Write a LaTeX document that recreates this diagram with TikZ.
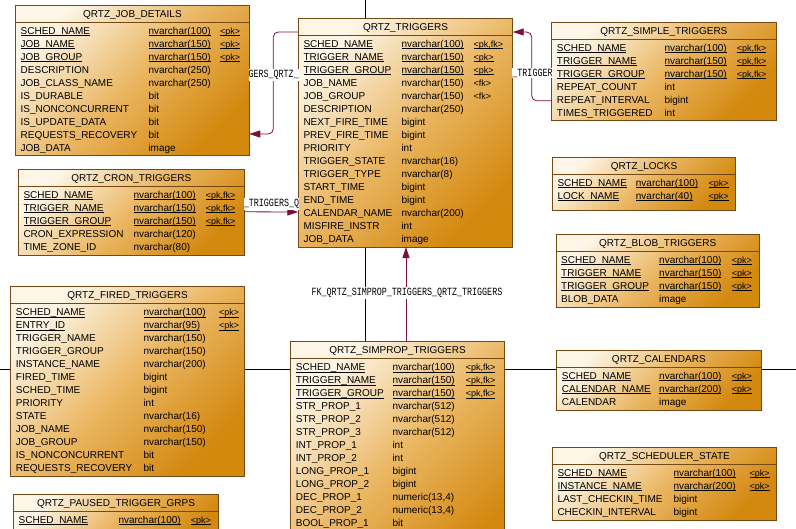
\documentclass[tikz,border=0pt]{standalone}
\usepackage{fontspec}
\setmainfont{Liberation Sans}
\newfontfamily\qmono{Liberation Mono}
\usepackage{xcolor}
\usetikzlibrary{
    arrows.meta,
    calc,
    positioning
}
\definecolor{qlight}{RGB}{253,245,230}
\definecolor{qmid}{RGB}{234,182,98}
\definecolor{qdark}{RGB}{211,136,14}
\definecolor{qborder}{RGB}{118,72,20}
\definecolor{fkred}{RGB}{122,14,62}
\tikzset{
    qbox/.style={draw=qborder, line width=0.8pt, top color=qlight, bottom color=qdark, middle color=qmid, shading angle=45, inner sep=0pt, outer sep=0pt},
    qsep/.style={draw=qborder, line width=0.8pt},
    qtitle/.style={font=\fontsize{10}{12}\selectfont, inner sep=0pt, text height=7.2pt, text depth=0pt},
    qcell/.style={anchor=west, font=\fontsize{10}{12}\selectfont, inner sep=0pt, text height=7.2pt, text depth=0pt},
    qkey/.style={qcell, font=\fontsize{9}{11}\selectfont},
    fk/.style={draw=fkred, line width=0.8pt, rounded corners=5pt, -{Triangle[length=11pt, width=7pt]}},
    fklabel/.style={fill=white, inner xsep=0pt, inner ysep=0.8pt, font=\qmono\fontsize{11}{12}\selectfont},
    pageline/.style={draw=black, line width=0.8pt}
}
\newcommand{\pkline}[1]{\setbox0=\hbox{#1}\rlap{\rule[-1.6pt]{\wd0}{0.6pt}}\box0}
\newcommand{\fktext}[1]{\scalebox{0.76}[1]{#1}}
\newcommand{\qrtztable}[9]{
    \node[qbox, anchor=north west, minimum width=#4pt-#2pt, minimum height=#5pt-#3pt] (#1) at (#2, #3) {};
    \draw[qsep] ($(#1.north west)+(0,17)$) -- ($(#1.north east)+(0,17)$);
    \node[qtitle] (#1-title) at ($(#1.north)+(0,8.5)$) {#6};
    \foreach \cname/\ctype/\ckey [count=\row] in {#9} {
        \node[qcell] (#1-n\row) at (#2+5, #3+12.5+13*\row) {\cname};
        \node[qcell] (#1-t\row) at (#7, #3+12.5+13*\row) {\ctype};
        \node[qkey] (#1-k\row) at (#8, #3+12.5+13*\row) {\ckey};
    }
}

\begin{document}
\begin{tikzpicture}[x=1pt, y=-1pt]
    \useasboundingbox (0, 0) rectangle (796, 528);
    \draw[pageline] (0, 369.5) -- (796, 369.5);
    \draw[pageline] (365.5, 0) -- (365.5, 528);
    \qrtztable{jobdet}{15.5}{5}{249.3}{155}{QRTZ\_JOB\_DETAILS}{148.3}{220}{
        \pkline{SCHED\_NAME}/\pkline{nvarchar(100)}/\pkline{<pk>},
        \pkline{JOB\_NAME}/\pkline{nvarchar(150)}/\pkline{<pk>},
        \pkline{JOB\_GROUP}/\pkline{nvarchar(150)}/\pkline{<pk>},
        DESCRIPTION/nvarchar(250)/{},
        JOB\_CLASS\_NAME/nvarchar(250)/{},
        IS\_DURABLE/bit/{},
        IS\_NONCONCURRENT/bit/{},
        IS\_UPDATE\_DATA/bit/{},
        REQUESTS\_RECOVERY/bit/{},
        JOB\_DATA/image/{}}
    \qrtztable{trig}{298.3}{18}{512.7}{247}{QRTZ\_TRIGGERS}{401.3}{473.3}{
        \pkline{SCHED\_NAME}/\pkline{nvarchar(100)}/\pkline{<pk,fk>},
        \pkline{TRIGGER\_NAME}/\pkline{nvarchar(150)}/\pkline{<pk>},
        \pkline{TRIGGER\_GROUP}/\pkline{nvarchar(150)}/\pkline{<pk>},
        JOB\_NAME/nvarchar(150)/<fk>,
        JOB\_GROUP/nvarchar(150)/<fk>,
        DESCRIPTION/nvarchar(250)/{},
        NEXT\_FIRE\_TIME/bigint/{},
        PREV\_FIRE\_TIME/bigint/{},
        PRIORITY/int/{},
        TRIGGER\_STATE/nvarchar(16)/{},
        TRIGGER\_TYPE/nvarchar(8)/{},
        START\_TIME/bigint/{},
        END\_TIME/bigint/{},
        CALENDAR\_NAME/nvarchar(200)/{},
        MISFIRE\_INSTR/int/{},
        JOB\_DATA/image/{}}
    \qrtztable{simple}{551.7}{22.3}{776}{120.7}{QRTZ\_SIMPLE\_TRIGGERS}{664.3}{736.7}{
        \pkline{SCHED\_NAME}/\pkline{nvarchar(100)}/\pkline{<pk,fk>},
        \pkline{TRIGGER\_NAME}/\pkline{nvarchar(150)}/\pkline{<pk,fk>},
        \pkline{TRIGGER\_GROUP}/\pkline{nvarchar(150)}/\pkline{<pk,fk>},
        REPEAT\_COUNT/int/{},
        REPEAT\_INTERVAL/bigint/{},
        TIMES\_TRIGGERED/int/{}}
    \qrtztable{locks}{552.3}{157.3}{735.7}{210.7}{QRTZ\_LOCKS}{635.7}{708.3}{
        \pkline{SCHED\_NAME}/\pkline{nvarchar(100)}/\pkline{<pk>},
        \pkline{LOCK\_NAME}/\pkline{nvarchar(40)}/\pkline{<pk>}}
    \qrtztable{cron}{18.3}{169.3}{244.3}{255}{QRTZ\_CRON\_TRIGGERS}{133.3}{205.7}{
        \pkline{SCHED\_NAME}/\pkline{nvarchar(100)}/\pkline{<pk,fk>},
        \pkline{TRIGGER\_NAME}/\pkline{nvarchar(150)}/\pkline{<pk,fk>},
        \pkline{TRIGGER\_GROUP}/\pkline{nvarchar(150)}/\pkline{<pk,fk>},
        CRON\_EXPRESSION/nvarchar(120)/{},
        TIME\_ZONE\_ID/nvarchar(80)/{}}
    \qrtztable{fired}{10.7}{286.5}{244.5}{476}{QRTZ\_FIRED\_TRIGGERS}{143.3}{219}{
        \pkline{SCHED\_NAME}/\pkline{nvarchar(100)}/\pkline{<pk>},
        \pkline{ENTRY\_ID}/\pkline{nvarchar(95)}/\pkline{<pk>},
        TRIGGER\_NAME/nvarchar(150)/{},
        TRIGGER\_GROUP/nvarchar(150)/{},
        INSTANCE\_NAME/nvarchar(200)/{},
        FIRED\_TIME/bigint/{},
        SCHED\_TIME/bigint/{},
        PRIORITY/int/{},
        STATE/nvarchar(16)/{},
        JOB\_NAME/nvarchar(150)/{},
        JOB\_GROUP/nvarchar(150)/{},
        IS\_NONCONCURRENT/bit/{},
        REQUESTS\_RECOVERY/bit/{}}
    \qrtztable{paused}{13.5}{494.3}{218.5}{545}{QRTZ\_PAUSED\_TRIGGER\_GRPS}{118.3}{190.7}{
        \pkline{SCHED\_NAME}/\pkline{nvarchar(100)}/\pkline{<pk>}}
    \qrtztable{simprop}{290.7}{341.7}{504.3}{575}{QRTZ\_SIMPROP\_TRIGGERS}{392.3}{465.7}{
        \pkline{SCHED\_NAME}/\pkline{nvarchar(100)}/\pkline{<pk,fk>},
        \pkline{TRIGGER\_NAME}/\pkline{nvarchar(150)}/\pkline{<pk,fk>},
        \pkline{TRIGGER\_GROUP}/\pkline{nvarchar(150)}/\pkline{<pk,fk>},
        STR\_PROP\_1/nvarchar(512)/{},
        STR\_PROP\_2/nvarchar(512)/{},
        STR\_PROP\_3/nvarchar(512)/{},
        INT\_PROP\_1/int/{},
        INT\_PROP\_2/int/{},
        LONG\_PROP\_1/bigint/{},
        LONG\_PROP\_2/bigint/{},
        DEC\_PROP\_1/{numeric(13,4)}/{},
        DEC\_PROP\_2/{numeric(13,4)}/{},
        BOOL\_PROP\_1/bit/{}}
    \qrtztable{blob}{556}{234}{759.3}{307.3}{QRTZ\_BLOB\_TRIGGERS}{659}{731.7}{
        \pkline{SCHED\_NAME}/\pkline{nvarchar(100)}/\pkline{<pk>},
        \pkline{TRIGGER\_NAME}/\pkline{nvarchar(150)}/\pkline{<pk>},
        \pkline{TRIGGER\_GROUP}/\pkline{nvarchar(150)}/\pkline{<pk>},
        BLOB\_DATA/image/{}}
    \qrtztable{cal}{556.7}{350}{761}{410.7}{QRTZ\_CALENDARS}{659}{731.7}{
        \pkline{SCHED\_NAME}/\pkline{nvarchar(100)}/\pkline{<pk>},
        \pkline{CALENDAR\_NAME}/\pkline{nvarchar(200)}/\pkline{<pk>},
        CALENDAR/image/{}}
    \qrtztable{sstate}{552.3}{447.3}{776.7}{520}{QRTZ\_SCHEDULER\_STATE}{673.3}{749.3}{
        \pkline{SCHED\_NAME}/\pkline{nvarchar(100)}/\pkline{<pk>},
        \pkline{INSTANCE\_NAME}/\pkline{nvarchar(200)}/\pkline{<pk>},
        LAST\_CHECKIN\_TIME/bigint/{},
        CHECKIN\_INTERVAL/bigint/{}}
    \draw[fk] ($(trig.north west)+(0,14)$) -- ++(-25,0) |- ($(jobdet.north east)+(0,129)$);
    \draw[fk] ($(simple.north west)+(0,78.5)$) -- ++(-20,0) |- ($(trig.north east)+(0,14)$);
    \draw[fk] ($(cron.north east)+(0,42.5)$) -- ($(trig.north west)+(0,194)$);
    \draw[fk] ($(simprop.north)+(8.5,0)$) coordinate (sp) -- (sp |- trig.south);
    \node[fklabel] (lbl-jobdet) at (273.7, 75) {\fktext{GERS\_QRTZ\_}};
    \node[fklabel] (lbl-simple) at (532.5, 73) {\fktext{\_TRIGGER}};
    \node[fklabel] (lbl-cron) at (271.5, 204) {\fktext{\_TRIGGERS\_Q}};
    \node[fklabel] (lbl-simprop) at (407, 293) {\fktext{FK\_QRTZ\_SIMPROP\_TRIGGERS\_QRTZ\_TRIGGERS}};
\end{tikzpicture}
\end{document}
